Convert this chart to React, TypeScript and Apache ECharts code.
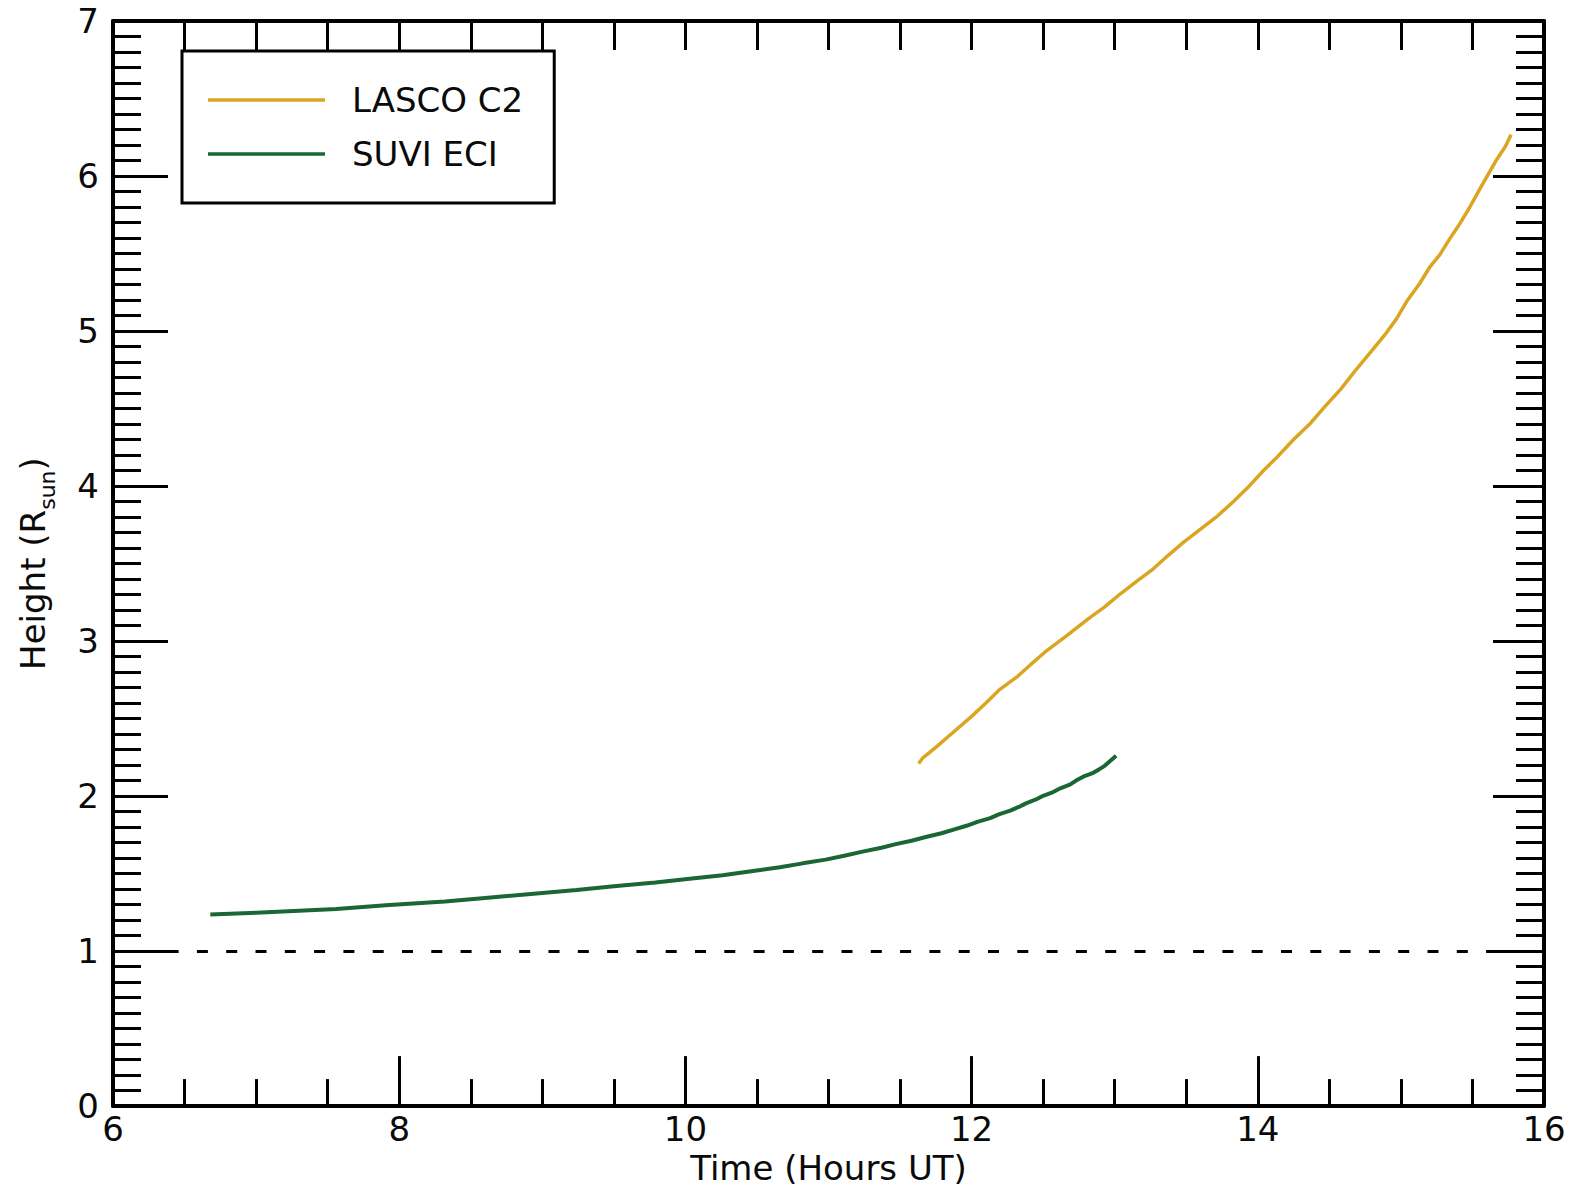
import React, { useEffect, useRef } from "react";
import * as echarts from "echarts";

// ---- Data ----
const seriesNames = ["LASCO C2", "SUVI ECI"];
const seriesColors = ["#DAA520", "#1A6634"];

const lascoTime = [11.63, 11.66, 11.76, 11.88, 12.0, 12.1, 12.2, 12.32, 12.41, 12.53, 12.67, 12.81, 12.93, 13.04, 13.16, 13.27, 13.37, 13.48, 13.6, 13.72, 13.83, 13.93, 14.04, 14.13, 14.25, 14.37, 14.47, 14.58, 14.69, 14.81, 14.9, 14.97, 15.04, 15.13, 15.2, 15.27, 15.34, 15.41, 15.48, 15.55, 15.61, 15.67, 15.73, 15.77];
const lascoHeight = [2.21, 2.247, 2.322, 2.418, 2.514, 2.6, 2.69, 2.771, 2.846, 2.942, 3.038, 3.14, 3.22, 3.305, 3.39, 3.466, 3.55, 3.637, 3.722, 3.808, 3.9, 3.99, 4.1, 4.182, 4.3, 4.407, 4.514, 4.625, 4.755, 4.888, 4.99, 5.08, 5.19, 5.305, 5.41, 5.49, 5.593, 5.69, 5.797, 5.914, 6.01, 6.107, 6.19, 6.267];

const suviTime = [6.68, 7.0, 7.56, 7.93, 8.32, 8.62, 8.92, 9.24, 9.5, 9.79, 10.03, 10.26, 10.46, 10.66, 10.82, 10.98, 11.11, 11.23, 11.37, 11.47, 11.58, 11.68, 11.79, 11.88, 11.97, 12.04, 12.13, 12.19, 12.27, 12.33, 12.38, 12.45, 12.5, 12.57, 12.62, 12.69, 12.73, 12.78, 12.85, 12.89, 12.93, 12.96, 13.01];
const suviHeight = [1.236, 1.248, 1.272, 1.297, 1.32, 1.344, 1.368, 1.394, 1.418, 1.442, 1.466, 1.489, 1.515, 1.541, 1.566, 1.59, 1.615, 1.64, 1.667, 1.69, 1.712, 1.736, 1.76, 1.785, 1.81, 1.833, 1.858, 1.882, 1.906, 1.93, 1.953, 1.978, 2.002, 2.026, 2.05, 2.075, 2.1, 2.125, 2.15, 2.172, 2.195, 2.22, 2.26];

const solarRadius = 1;
const xRange = [6, 16];
const yRange = [0, 7];
const xMajor = 2;
const yMajor = 1;

const pairs = (xs: number[], ys: number[]) => xs.map((x, i) => [x, ys[i]]);

const FONT = "DejaVu Sans";
const INK = "#0a0a0a";

export default function App() {
  const ref = useRef<HTMLDivElement>(null);

  useEffect(() => {
    if (!ref.current) return;
    const chart = echarts.init(ref.current, undefined, { renderer: "svg" });

    const axisLine = { show: true, onZero: false, lineStyle: { color: "#000", width: 4 } };
    const tickStyle = { color: "#000", width: 3 };

    chart.setOption({
      animation: false,
      backgroundColor: "#fff",
      textStyle: { fontFamily: FONT },
      grid: { left: 111, right: 29, top: 21, bottom: 78, containLabel: false },
      legend: {
        data: seriesNames,
        orient: "vertical",
        left: 182,
        top: 51,
        padding: [32, 31, 32, 26],
        itemGap: 20,
        itemWidth: 117,
        itemHeight: 3.5,
        icon: "rect",
        borderColor: "#000",
        borderWidth: 3,
        borderRadius: 0,
        backgroundColor: "#fff",
        selectedMode: false,
        textStyle: { fontSize: 34, fontFamily: FONT, color: INK, padding: [0, 0, 0, 22] },
      },
      xAxis: [
        {
          type: "value",
          position: "bottom",
          min: xRange[0],
          max: xRange[1],
          interval: xMajor,
          axisLine,
          axisTick: { show: true, inside: true, length: 50, lineStyle: tickStyle },
          minorTick: { show: true, splitNumber: 4, length: 27, lineStyle: tickStyle },
          splitLine: { show: false },
          axisLabel: { show: true, fontSize: 34, fontFamily: FONT, color: INK, margin: 6 },
          name: "Time (Hours UT)",
          nameLocation: "middle",
          nameGap: 41,
          nameTextStyle: { fontSize: 34, fontFamily: FONT, color: INK },
        },
        {
          type: "value",
          position: "top",
          min: xRange[0],
          max: xRange[1],
          interval: 0.5,
          axisLine,
          axisTick: { show: true, inside: true, length: 29, lineStyle: tickStyle },
          splitLine: { show: false },
          axisLabel: { show: false },
        },
      ],
      yAxis: [
        {
          type: "value",
          position: "left",
          min: yRange[0],
          max: yRange[1],
          interval: yMajor,
          axisLine,
          axisTick: { show: true, inside: true, length: 55, lineStyle: tickStyle },
          minorTick: { show: true, splitNumber: 10, length: 28, lineStyle: tickStyle },
          splitLine: { show: false },
          axisLabel: { show: true, fontSize: 34, fontFamily: FONT, color: INK, margin: 14 },
          name: "Height (R{s|sun})",
          nameLocation: "middle",
          nameRotate: 90,
          nameGap: 55,
          nameTextStyle: {
            fontSize: 34,
            fontFamily: FONT,
            color: INK,
            lineHeight: 50,
            rich: {
              s: { fontSize: 22, fontFamily: FONT, color: INK, lineHeight: 22, verticalAlign: "bottom" },
            },
          },
        },
        {
          type: "value",
          position: "right",
          min: yRange[0],
          max: yRange[1],
          interval: yMajor,
          axisLine,
          axisTick: { show: true, inside: true, length: 51, lineStyle: tickStyle },
          minorTick: { show: true, splitNumber: 10, length: 28, lineStyle: tickStyle },
          splitLine: { show: false },
          axisLabel: { show: false },
        },
      ],
      series: [
        {
          name: seriesNames[0],
          type: "line",
          xAxisIndex: 0,
          yAxisIndex: 0,
          data: pairs(lascoTime, lascoHeight),
          showSymbol: false,
          symbol: "none",
          color: seriesColors[0],
          lineStyle: { color: seriesColors[0], width: 3.5 },
          silent: true,
          z: 3,
        },
        {
          name: seriesNames[1],
          type: "line",
          xAxisIndex: 0,
          yAxisIndex: 0,
          data: pairs(suviTime, suviHeight),
          showSymbol: false,
          symbol: "none",
          color: seriesColors[1],
          lineStyle: { color: seriesColors[1], width: 4 },
          silent: true,
          z: 3,
          markLine: {
            silent: true,
            symbol: ["none", "none"],
            label: { show: false },
            lineStyle: { color: "#000", width: 3, type: [11, 18.3], dashOffset: 4 },
            data: [{ yAxis: solarRadius }],
          },
        },
      ],
    });

    return () => chart.dispose();
  }, []);

  return (
    <div
      ref={ref}
      style={{ position: "fixed", left: 0, top: 0, width: 1573, height: 1190, background: "#fff" }}
    />
  );
}
